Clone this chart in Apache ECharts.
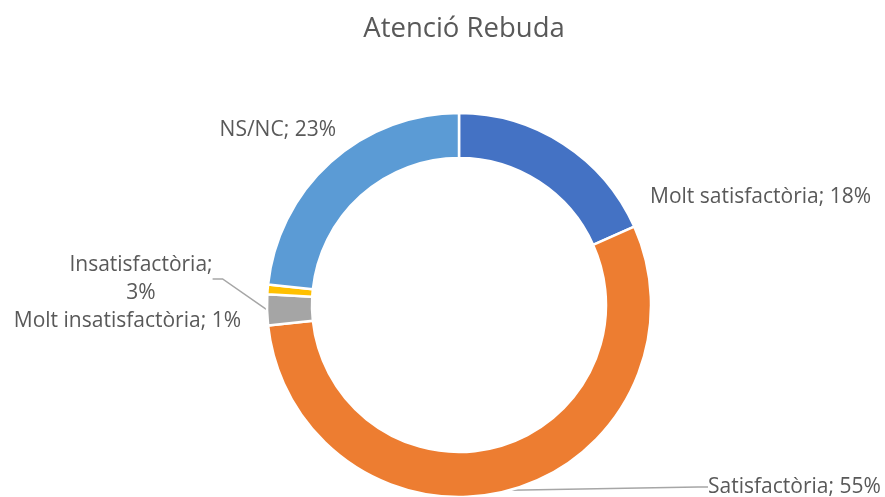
<!DOCTYPE html>
<html><head><meta charset="utf-8">
<script src="https://cdn.jsdelivr.net/npm/echarts@6/dist/echarts.min.js"></script>
<style>html,body{margin:0;padding:0;background:#fff}#c{width:885px;height:497px}</style>
</head><body><div id="c"></div>
<script>
const categories = ['Molt satisfactòria', 'Satisfactòria', 'Insatisfactòria', 'Molt insatisfactòria', 'NS/NC'];
const values = [18.3, 55.0, 2.6, 0.8, 23.3];
const colors = ['#4472C4', '#ED7D31', '#A5A5A5', '#FFC000', '#5B9BD5'];
const titleText = 'Atenció Rebuda';

const labelPos = [
  {x: 650, y: 197, align: 'left'},
  {x: 708, y: 487, align: 'left'},
  {x: 141, y: 279, align: 'center'},
  {x: 241, y: 321, align: 'right'},
  {x: 336, y: 130, align: 'right'}
];
const showLine = [false, true, true, false, false];

const chart = echarts.init(document.getElementById('c'), null, {renderer: 'canvas'});
const data = categories.map((c, i) => ({
  name: c,
  value: values[i],
  itemStyle: {color: colors[i]},
  labelLine: {show: showLine[i]}
}));
chart.setOption({
  animation: false,
  backgroundColor: '#fff',
  title: {
    text: titleText, left: 459, top: 10, textAlign: 'center',
    textStyle: {fontFamily: 'Open Sans', fontSize: 27.5, fontWeight: 'normal', color: '#595959'}
  },
  series: [{
    type: 'pie',
    center: [459, 305],
    radius: [147, 192],
    startAngle: 90,
    clockwise: true,
    data: data,
    itemStyle: {borderColor: '#fff', borderWidth: 2.5},
    label: {
      show: true,
      position: 'outside',
      fontFamily: 'Open Sans',
      fontSize: 21,
      color: '#595959',
      lineHeight: 28,
      formatter: p => p.dataIndex === 2
        ? p.name + ';\n' + Math.round(p.value) + '%'
        : p.name + '; ' + Math.round(p.value) + '%'
    },
    labelLine: {lineStyle: {color: '#A6A6A6', width: 1.5}, length: 10, length2: 10},
    labelLayout: params => {
      const p = labelPos[params.dataIndex];
      return {x: p.x, y: p.y, align: p.align, verticalAlign: 'middle'};
    },
    emphasis: {disabled: true}
  }]
});
</script>
</body></html>
